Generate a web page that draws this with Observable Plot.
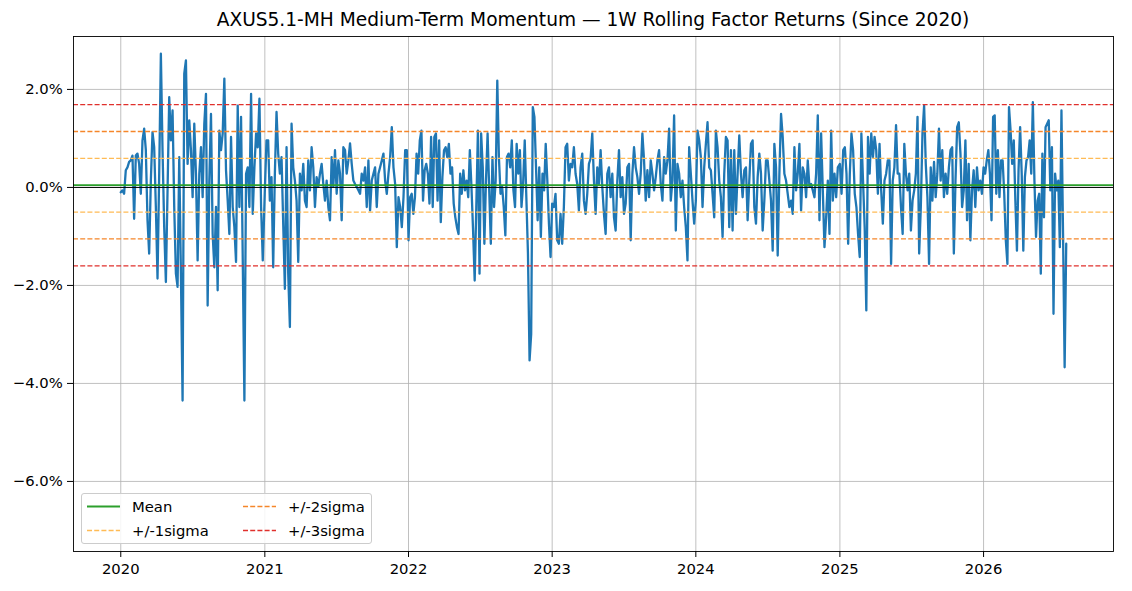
<!DOCTYPE html>
<html>
<head>
<meta charset="utf-8">
<script src="https://cdn.jsdelivr.net/npm/d3@7"></script>
<script src="https://cdn.jsdelivr.net/npm/@observablehq/plot@0.6"></script>
<style>
  html, body { margin: 0; padding: 0; background: white; }
  #wrap { position: relative; width: 1132px; height: 591px; font-family: "DejaVu Sans", sans-serif; color: black; }
  #title { height: 30px; box-sizing: border-box; padding: 10px 19px 0 73px; font-size: 18.6px; line-height: 20px; text-align: center; white-space: nowrap; }
  #legend { position: absolute; left: 81px; top: 493px; width: 291px; height: 51px; box-sizing: border-box; border: 1px solid #cccccc; border-radius: 3px; background: rgba(255,255,255,0.85); font-size: 14.8px; }
  #legend span { position: absolute; line-height: 17px; white-space: nowrap; }
  #legend svg { position: absolute; left: 0; top: 0; }
</style>
</head>
<body>
<div id="wrap">
  <div id="title">AXUS5.1-MH Medium-Term Momentum — 1W Rolling Factor Returns (Since 2020)</div>
</div>
<script>
// ---- Data (1W rolling factor returns, %) ----
const v2020 = [-0.10,-0.06,-0.13,0.35,0.41,0.52,0.55,0.65,-0.64,0.65,0.69,0.48,-0.13,0.96,1.20,0.76,-0.67,-1.35,0.14,1.13,0.82,-0.40,-1.86,0.28,2.73,0.76,-0.81,-1.93,-0.06,1.84,0.96,1.57,-0.40,-1.76,-2.03,0.62,-1.76,-4.35,2.32,2.59,0.48,1.37,0.76,-0.20,1.30,0.28,-1.49,0.28,0.82,-0.20,1.30,1.91,-2.41,0.14,1.50,-0.95,-1.63,-0.40,-2.10,1.16,0.76,1.10,2.22,0.35,-0.27,-0.95,1.03,-0.40,-0.81,-1.52,1.67,-0.40,1.44,-1.42,-4.35,0.28,0.41,-0.40,1.91,-0.54,0.41,1.10,0.82,1.81,-0.40,-1.49];
const v2021 = [-0.06,0.96,0.96,-0.27,0.21,-1.63,0.28,1.54,0.69,0.28,0.62,-0.74,-2.07,0.82,-1.76,-2.85,1.30,0.41,0.14,-0.27,-1.52,0.28,-0.06,0.48,-0.27,-0.40,0.55,-0.06,0.82,0.41,-0.40,0.21,0.01,0.28,0.48,0.07,-0.27,0.14,-0.40,-0.67,0.62,0.01,0.76,-0.13,0.55,0.28,-0.67,0.82,0.76,0.28,0.55,0.90,0.48,0.14,0.07,0.01,-0.06,-0.13,0.28,0.14,0.41,-0.40,0.55,-0.47,0.14,0.28,0.41,-0.40,0.28,0.41,0.55,0.69,0.14,-0.13,0.28,0.62,1.23,0.41,0.07,-1.22,-0.20,-0.40,-0.81,-0.20,0.76,0.76];
const v2022 = [-1.08,-0.20,-0.13,-0.54,-0.20,0.69,0.28,0.96,1.16,-0.27,0.35,0.48,0.28,-0.33,1.03,-0.40,1.03,1.10,-0.27,0.96,-0.71,0.21,0.76,0.82,0.62,0.89,0.28,0.41,-0.33,-0.61,-0.81,-0.95,0.28,-0.13,0.35,-0.06,0.14,-0.20,0.76,0.01,-0.88,-1.90,-0.40,1.16,-1.76,1.10,0.41,-1.15,0.14,1.10,-0.06,-1.15,0.62,-0.40,0.14,2.18,0.62,-0.13,0.01,-0.40,-0.98,0.62,0.69,0.41,0.96,-0.06,-0.40,0.89,0.28,0.76,-0.40,0.07,0.96,-0.20,-1.35,-3.53,-2.99,1.64,1.44,0.41,-0.67,0.41,-1.01,0.28,-0.06,0.89,0.14,-0.74,-1.42];
const v2023 = [-0.33,-0.40,-0.13,-1.08,-1.15,-0.54,-1.15,-0.40,0.82,0.89,0.14,0.48,0.41,0.82,0.28,0.07,-0.47,0.41,0.69,-0.27,-0.54,-0.13,0.48,0.59,1.10,0.14,-0.54,0.41,0.07,0.76,0.01,-0.54,-0.95,0.28,0.41,-0.20,0.28,-0.61,-0.88,0.14,0.76,-0.20,0.21,-0.54,-0.33,0.41,0.48,-1.08,0.28,0.82,0.41,0.21,-0.13,0.28,1.10,0.55,-0.27,0.35,-0.20,0.55,0.28,-0.06,0.21,0.55,0.76,0.07,-0.27,0.62,0.28,0.55,1.20,-0.27,0.14,1.47,-0.88,0.48,0.28,-0.20,0.14,-0.40,-0.81,-1.49,0.82,0.28,-0.27,-0.74];
const v2024 = [-0.27,1.16,0.96,0.62,-0.40,0.41,0.89,1.33,0.41,0.35,-0.13,-0.61,1.16,0.82,0.14,-0.20,-1.01,0.28,1.03,0.96,-0.81,0.76,-0.88,0.76,-0.54,0.28,1.06,0.28,-0.20,0.35,0.41,-0.67,0.14,0.89,0.96,-0.40,-0.74,0.21,0.69,0.28,-0.88,-0.27,0.55,0.55,0.14,-0.27,-1.29,0.89,0.41,-1.39,0.28,1.50,1.03,0.28,0.14,-0.13,-0.40,-0.27,-0.54,0.82,-0.06,0.28,0.89,-0.47,0.41,0.28,-0.20,0.55,0.01,0.07,-0.06,-0.20,0.28,1.47,-0.67,1.10,-0.06,-1.22,-0.61,0.14,-0.95,1.16,-0.27,0.28,-0.20,0.41];
const v2025 = [0.48,-0.13,0.76,0.82,0.28,-1.15,0.28,1.10,0.76,-0.13,-0.40,-0.95,-1.42,1.10,0.14,-0.81,-2.51,1.03,0.28,1.10,0.62,1.03,0.76,-0.13,0.89,-0.06,-0.74,0.14,0.28,0.55,0.55,-1.56,0.14,0.41,1.27,0.28,0.28,-0.40,-0.95,0.89,0.28,-0.06,0.28,-0.88,-0.27,-0.06,0.28,1.44,-1.35,-0.40,1.10,1.67,0.48,-0.20,-1.56,0.41,-0.27,0.52,-0.20,0.28,1.20,0.14,0.76,-0.20,0.28,-0.13,0.41,0.76,0.82,-1.35,0.14,1.23,1.33,0.69,-0.40,-0.06,0.96,-0.67,0.48,-1.08,-0.06,0.35,-0.40,0.41,-0.06,0.14,-0.13];
const v2026 = [0.41,0.28,0.55,0.76,0.28,-0.67,1.44,1.47,-0.13,0.76,-0.20,0.55,0.55,-0.13,-1.08,-1.56,1.64,1.16,0.48,0.96,-0.27,-1.29,0.35,1.23,0.28,-1.29,0.21,0.55,0.62,0.96,0.28,1.74,0.14,-1.01,-0.27,-0.13,-1.76,0.69,-0.61,1.23,1.30,1.37,-0.06,0.82,-2.58,0.28,-0.06,0.14,-1.22,1.57,-0.95,-3.67,-1.15];
const yearValues = [[2020, v2020], [2021, v2021], [2022, v2022], [2023, v2023], [2024, v2024], [2025, v2025], [2026, v2026]];
const lastDate = "2026-07-30";

// statistics lines (%)
const meanValue = 0.045;
const sigmaValue = 0.548;
const bandLevels = [1, 2, 3];
const bandLabels = ["+/-1sigma", "+/-2sigma", "+/-3sigma"];
const bandColors = ["#ffbb55", "#f5862a", "#e0302c"];

// axes
const xTickYears = [2020, 2021, 2022, 2023, 2024, 2025, 2026];
const yTicks = [-6, -4, -2, 0, 2];

// ---- Build table ----
const DAY = 86400000;
const series = [];
for (const [yr, vals] of yearValues) {
  const t0 = Date.UTC(yr, 0, 1);
  const isLast = yr === 2026;
  const span = isLast ? (new Date(lastDate + "T00:00:00Z") - t0) / DAY : 365;
  const step = isLast ? span / (vals.length - 1) : span / vals.length;
  vals.forEach((v, i) => series.push({ date: new Date(t0 + i * step * DAY), value: v }));
}
const firstDate = series[0].date;
const endDate = series[series.length - 1].date;
const pad = (endDate - firstDate) * 0.05;
const xDomain = [new Date(+firstDate - pad), new Date(+endDate + pad)];

const rules = [];
bandLevels.forEach((k, i) => {
  rules.push({ y: meanValue + k * sigmaValue, c: bandColors[i] });
  rules.push({ y: meanValue - k * sigmaValue, c: bandColors[i] });
});

const fmtPct = v => (v < 0 ? "\u2212" : "") + Math.abs(v).toFixed(1) + "%";
const xTickDates = xTickYears.map(y => new Date(Date.UTC(y, 0, 1)));

const chart = Plot.plot({
  width: 1132,
  height: 561,
  marginLeft: 73,
  marginRight: 19,
  marginTop: 6,
  marginBottom: 40,
  style: { fontFamily: "DejaVu Sans, sans-serif", fontSize: "14.8px", color: "black", background: "white", overflow: "visible" },
  x: { type: "utc", domain: xDomain, label: null },
  y: { domain: [-7.43, 3.08], label: null },
  marks: [
    Plot.gridX(xTickDates, { stroke: "#b0b0b0", strokeOpacity: 1, strokeWidth: 0.8 }),
    Plot.gridY(yTicks, { stroke: "#b0b0b0", strokeOpacity: 1, strokeWidth: 0.8 }),
    Plot.lineY(series, { x: "date", y: "value", stroke: "#1f77b4", strokeWidth: 2.3 }),
    Plot.ruleY([0], { stroke: "black", strokeWidth: 1 }),
    Plot.ruleY([meanValue], { stroke: "#2ca02c", strokeWidth: 1.8 }),
    Plot.ruleY(rules, { y: "y", stroke: "c", strokeWidth: 1.3, strokeDasharray: "5,2.2" }),
    Plot.frame({ stroke: "black", strokeWidth: 0.9 }),
    Plot.axisX({ ticks: xTickDates, tickFormat: d3.utcFormat("%Y"), tickSize: 6, tickPadding: 6.3, label: null }),
    Plot.axisY({ ticks: yTicks, tickFormat: fmtPct, tickSize: 6, tickPadding: 4.7, label: null })
  ]
});
const wrap = document.getElementById("wrap");
wrap.appendChild(chart);

// ---- Legend ----
const legend = document.createElement("div");
legend.id = "legend";
const items = [
  { label: "Mean", color: "#2ca02c", dash: null, hx: 5, tx: 50, cy: 12.5 },
  { label: bandLabels[0], color: bandColors[0], dash: "5,2.2", hx: 5, tx: 50, cy: 36.5 },
  { label: bandLabels[1], color: bandColors[1], dash: "5,2.2", hx: 161, tx: 206, cy: 12.5 },
  { label: bandLabels[2], color: bandColors[2], dash: "5,2.2", hx: 161, tx: 206, cy: 36.5 }
];
const ns = "http://www.w3.org/2000/svg";
const lsvg = document.createElementNS(ns, "svg");
lsvg.setAttribute("width", 289);
lsvg.setAttribute("height", 49);
for (const it of items) {
  const ln = document.createElementNS(ns, "line");
  ln.setAttribute("x1", it.hx);
  ln.setAttribute("x2", it.hx + 33);
  ln.setAttribute("y1", it.cy);
  ln.setAttribute("y2", it.cy);
  ln.setAttribute("stroke", it.color);
  ln.setAttribute("stroke-width", it.dash ? 1.3 : 1.8);
  if (it.dash) ln.setAttribute("stroke-dasharray", it.dash);
  lsvg.appendChild(ln);
  const sp = document.createElement("span");
  sp.textContent = it.label;
  sp.style.left = it.tx + "px";
  sp.style.top = (it.cy - 8.5) + "px";
  legend.appendChild(sp);
}
legend.appendChild(lsvg);
wrap.appendChild(legend);
</script>
</body>
</html>
